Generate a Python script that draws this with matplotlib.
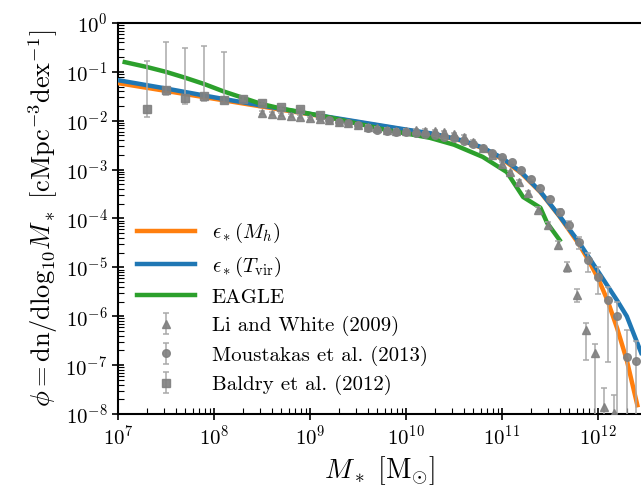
import numpy as np
import matplotlib
matplotlib.use("Agg")
import matplotlib.pyplot as plt

plt.rcParams['font.family'] = 'serif'
plt.rcParams['font.serif'] = ['cmr10']
plt.rcParams['mathtext.fontset'] = 'cm'
plt.rcParams['axes.unicode_minus'] = False
plt.rcParams['axes.formatter.use_mathtext'] = True

# ---- model lines (log10 M*, log10 phi) ----
mh_logm = [7.0, 7.5, 8.0, 8.5, 9.0, 9.5, 10.0, 10.3, 10.6, 10.8, 11.0, 11.2, 11.4, 11.6,
           11.8, 11.9, 12.0, 12.1, 12.2, 12.3, 12.41]
mh_logphi = [-1.23, -1.39, -1.55, -1.71, -1.87, -2.03, -2.19, -2.28, -2.42, -2.56, -2.78,
             -3.07, -3.46, -3.96, -4.52, -4.85, -5.22, -5.68, -6.25, -6.90, -7.82]

tv_logm = [7.0, 7.5, 8.0, 8.5, 9.0, 9.5, 10.0, 10.3, 10.6, 10.8, 11.0, 11.2, 11.4, 11.6,
           11.8, 11.9, 12.0, 12.1, 12.2, 12.3, 12.45]
tv_logphi = [-1.17, -1.34, -1.52, -1.69, -1.86, -2.02, -2.18, -2.27, -2.41, -2.55, -2.76,
             -3.05, -3.45, -3.95, -4.48, -4.78, -5.08, -5.38, -5.68, -6.00, -6.75]

eagle_logm = [7.07, 7.3, 7.5, 7.7, 7.9, 8.1, 8.3, 8.5, 8.7, 8.9, 9.2, 9.5, 9.8, 10.0, 10.25,
              10.5, 10.8, 11.05, 11.22, 11.4, 11.47, 11.6]
eagle_logphi = [-0.80, -0.90, -1.00, -1.12, -1.25, -1.40, -1.53, -1.66, -1.75, -1.82, -1.93,
                -2.06, -2.19, -2.26, -2.35, -2.49, -2.74, -3.05, -3.56, -3.78, -4.09, -4.44]

# ---- observations ----
li_logm = [8.5, 8.6, 8.7, 8.8, 8.9, 9.0, 9.1, 9.2, 9.3, 9.4, 9.5, 9.6, 9.7, 9.8, 9.9, 10.0,
           10.1, 10.2, 10.3, 10.4, 10.5, 10.6, 10.7, 10.8, 10.9, 11.0, 11.08, 11.18, 11.27,
           11.37, 11.48, 11.58, 11.68, 11.78, 11.88, 11.97, 12.06, 12.17]
li_logphi = [-1.84, -1.86, -1.88, -1.90, -1.92, -1.95, -1.97, -1.99, -2.02, -2.05, -2.08,
             -2.12, -2.15, -2.18, -2.20, -2.20, -2.19, -2.20, -2.21, -2.24, -2.28, -2.33,
             -2.43, -2.56, -2.70, -2.88, -3.05, -3.25, -3.48, -3.82, -4.13, -4.54, -4.99,
             -5.56, -6.28, -6.75, -7.85, -7.98]
li_lo = [-1.87, -1.89, -1.91, -1.93, -1.95, -1.98, -2.00, -2.02, -2.05, -2.08, -2.11,
         -2.15, -2.18, -2.21, -2.23, -2.23, -2.22, -2.23, -2.24, -2.27, -2.31, -2.36,
         -2.46, -2.59, -2.73, -2.91, -3.08, -3.28, -3.52, -3.87, -4.19, -4.62, -5.10,
         -5.70, -6.89, -12.0, -12.0, -12.0]
li_hi = [-1.81, -1.83, -1.85, -1.87, -1.89, -1.92, -1.94, -1.96, -1.99, -2.02, -2.05,
         -2.09, -2.12, -2.15, -2.17, -2.17, -2.16, -2.17, -2.18, -2.21, -2.25, -2.30,
         -2.40, -2.53, -2.67, -2.85, -3.02, -3.22, -3.44, -3.77, -4.08, -4.47, -4.90,
         -5.45, -6.13, -6.56, -7.46, -7.61]

mo_logm = [9.2, 9.3, 9.4, 9.5, 9.6, 9.7, 9.8, 9.9, 10.0, 10.1, 10.2, 10.3, 10.4, 10.5, 10.6,
           10.7, 10.8, 10.9, 11.0, 11.1, 11.2, 11.3, 11.4, 11.5, 11.6, 11.7, 11.8, 11.9,
           12.0, 12.1, 12.2, 12.3, 12.4]
mo_logphi = [-1.98, -2.02, -2.05, -2.09, -2.15, -2.19, -2.21, -2.23, -2.23, -2.25, -2.28,
             -2.29, -2.33, -2.35, -2.41, -2.47, -2.56, -2.66, -2.74, -2.85, -3.01, -3.19,
             -3.37, -3.60, -3.86, -4.13, -4.48, -4.85, -5.19, -5.66, -5.99, -6.83, -6.91]
mo_lo = [-2.00, -2.04, -2.07, -2.11, -2.17, -2.21, -2.23, -2.25, -2.25, -2.27, -2.30,
         -2.31, -2.35, -2.37, -2.43, -2.49, -2.58, -2.68, -2.76, -2.87, -3.04, -3.22,
         -3.41, -3.65, -3.93, -4.22, -4.62, -5.10, -5.55, -6.93, -12.0, -12.0, -12.0]
mo_hi = [-1.96, -2.00, -2.03, -2.07, -2.13, -2.17, -2.19, -2.21, -2.21, -2.23, -2.26,
         -2.27, -2.31, -2.33, -2.39, -2.45, -2.54, -2.64, -2.72, -2.83, -2.98, -3.16,
         -3.33, -3.55, -3.80, -4.05, -4.37, -4.70, -5.00, -5.40, -5.70, -6.28, -6.50]

ba_logm = [7.3, 7.5, 7.7, 7.9, 8.1, 8.3, 8.5, 8.7, 8.9, 9.1]
ba_logphi = [-1.76, -1.37, -1.53, -1.49, -1.57, -1.56, -1.63, -1.72, -1.76, -1.88]
ba_lo = [-1.92, -1.47, -1.66, -1.60, -1.64, -1.60, -1.66, -1.75, -1.79, -1.91]
ba_hi = [-0.78, -0.39, -0.51, -0.47, -0.59, -1.50, -1.60, -1.69, -1.73, -1.85]

labels = [r'$\epsilon_*(M_h)$', r'$\epsilon_*(T_{\rm vir})$', 'EAGLE',
          'Li and White (2009)', 'Moustakas et al. (2013)', 'Baldry et al. (2012)']
colors = ['#ff7f0e', '#1f77b4', '#2ca02c']

fig = plt.figure(figsize=(6.41, 4.90), dpi=100)
ax = fig.add_axes([118/641, 1-414/490, (641-118)/641, (414-23)/490])

p = lambda a: 10.0**np.asarray(a)

ax.plot(p(mh_logm), p(mh_logphi), color=colors[0], lw=3.2, label=labels[0], zorder=3)
ax.plot(p(tv_logm), p(tv_logphi), color=colors[1], lw=3.2, label=labels[1], zorder=3)
ax.plot(p(eagle_logm), p(eagle_logphi), color=colors[2], lw=3.2, label=labels[2], zorder=3)

def eb(lm, lp, lo, hi, marker, label):
    y = p(lp)
    yerr = [y - p(lo), p(hi) - y]
    ax.errorbar(p(lm), y, yerr=yerr, fmt=marker, color='#808080', ecolor='#a8a8a8',
                ms=5.5, elinewidth=1.2, capsize=2.5, capthick=1.2, alpha=0.9,
                label=label, zorder=4)

eb(li_logm, li_logphi, li_lo, li_hi, '^', labels[3])
eb(mo_logm, mo_logphi, mo_lo, mo_hi, 'o', labels[4])
eb(ba_logm, ba_logphi, ba_lo, ba_hi, 's', labels[5])

ax.set_xscale('log')
ax.set_yscale('log')
ax.set_xlim(1e7, 10**12.448)
ax.set_ylim(1e-8, 1)
ax.set_yticks([10.0**k for k in range(-8, 1)])
ax.spines['right'].set_visible(False)
for s in ['left', 'bottom', 'top']:
    ax.spines[s].set_linewidth(1.5)
ax.tick_params(which='major', direction='inout', length=8, width=1.2, labelsize=15)
ax.tick_params(which='minor', direction='in', length=4, width=0.8)
ax.tick_params(top=False, right=False, which='both')
ax.yaxis.set_minor_locator(matplotlib.ticker.LogLocator(base=10, subs=np.arange(2, 10), numticks=20))
ax.yaxis.set_minor_formatter(matplotlib.ticker.NullFormatter())

ax.set_xlabel(r'$M_*\ [\mathrm{M}_{\odot}]$', fontsize=20)
ax.set_ylabel(r'$\phi = \mathrm{dn}/\mathrm{dlog}_{10} M_*\ [\mathrm{cMpc}^{-3}\mathrm{dex}^{-1}]$',
              fontsize=19)

ax.legend(loc='lower left', bbox_to_anchor=(0.0, 0.0), frameon=False, fontsize=15,
          handlelength=2.8, handletextpad=0.8, labelspacing=0.45)

fig.savefig('out.png', dpi=100)
